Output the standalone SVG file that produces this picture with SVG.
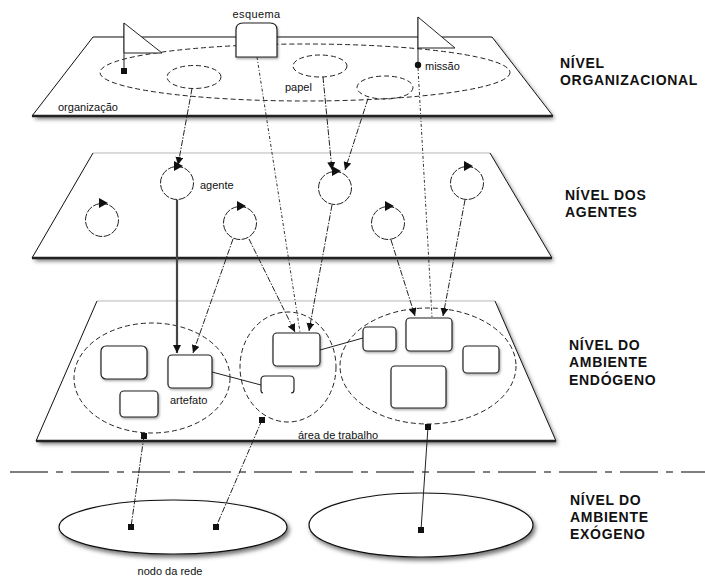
<svg xmlns="http://www.w3.org/2000/svg" xmlns:xlink="http://www.w3.org/1999/xlink" width="705" height="576" viewBox="0 0 705 576">
<defs>
<style>
.plane{fill:#fff;stroke:none}
.edge{fill:none;stroke:#111;stroke-width:1}
.edgeL{fill:none;stroke:#bbb;stroke-width:1}
.base{fill:none;stroke:#222;stroke-width:2.5}
.dell{fill:none;stroke:#222;stroke-width:1;stroke-dasharray:5 3}
.box{fill:#fff;stroke:#222;stroke-width:1.2}
.lbl{font-family:"Liberation Sans",Arial,sans-serif;font-size:11px;fill:#111}
.lvl{font-family:"Liberation Sans",Arial,sans-serif;font-size:14px;font-weight:bold;fill:#111;letter-spacing:0.7px}
.c1{fill:none;stroke:#222;stroke-width:1;stroke-dasharray:6 1.5 1.5 1.5}
.c2{fill:none;stroke:#333;stroke-width:1;stroke-dasharray:3 2 1 2}
.cs{fill:none;stroke:#222;stroke-width:1}
.ct{fill:none;stroke:#444;stroke-width:2.2}
.sq{fill:#111}
</style>
<filter id="sh" x="-10%" y="-10%" width="125%" height="140%">
<feDropShadow dx="2" dy="3" stdDeviation="2" flood-color="#000" flood-opacity="0.55"/>
</filter>
<filter id="sh2" x="-20%" y="-20%" width="150%" height="160%">
<feDropShadow dx="1" dy="1.5" stdDeviation="1" flood-color="#000" flood-opacity="0.35"/>
</filter>
<marker id="ah" viewBox="0 0 10 10" refX="10" refY="5" markerWidth="8" markerHeight="8" markerUnits="userSpaceOnUse" orient="auto">
<path d="M0,0 L10,5 L0,10 z" fill="#111"/>
</marker>
<g id="agt">
<circle cx="0" cy="0" r="16.5" fill="#fff" stroke="#222" stroke-width="1" stroke-dasharray="7 1.5"/>
<polygon points="-3,-22 6,-17 -3,-12" fill="#111"/>
</g>
</defs>

<rect width="705" height="576" fill="#fff"/>

<!-- ORGANIZATIONAL LEVEL -->
<g id="plane-org">
<polygon class="plane" points="93,37 492,37 553,116 32,116" filter="url(#sh)"/>
<polyline class="edge" points="32,116 93,37 492,37 553,116"/>
<line class="base" x1="32" y1="116" x2="553" y2="116"/>
</g>
<g id="org-ellipse">
<ellipse class="dell" cx="305" cy="72.5" rx="205" ry="28.5"/>
<text class="lbl" x="58" y="111">organização</text>
</g>
<g id="flag-left">
<line x1="124" y1="23" x2="124" y2="71" stroke="#222" stroke-width="1"/>
<polygon points="124,23 162,53 124,53" fill="#fff" stroke="#222" stroke-width="1"/>
<rect class="sq" x="121" y="68" width="6" height="6"/>
</g>
<g id="flag-right">
<line x1="418" y1="17" x2="418" y2="65" stroke="#222" stroke-width="1"/>
<polygon points="418,17 455,48 418,48" fill="#fff" stroke="#222" stroke-width="1"/>
<circle class="sq" cx="418" cy="65" r="3.2"/>
<text class="lbl" x="425" y="70">missão</text>
</g>
<g id="esquema">
<path d="M236,57 V30 Q236,23 243,23 H270 Q277,23 277,30 V57 Z" class="box" filter="url(#sh2)"/>
<text class="lbl" x="256.5" y="18" text-anchor="middle" letter-spacing="0.4">esquema</text>
</g>
<g id="papel1"><ellipse class="dell" cx="194" cy="77" rx="27" ry="11.5"/></g>
<g id="papel2"><ellipse class="dell" cx="320" cy="66" rx="27" ry="11"/><text class="lbl" x="285" y="91">papel</text></g>
<g id="papel3"><ellipse class="dell" cx="385" cy="87.5" rx="28" ry="11.5"/></g>

<!-- AGENTS LEVEL -->
<g id="plane-agents">
<polygon class="plane" points="93,153 490,153 552,258 32,258" filter="url(#sh)"/>
<line class="edgeL" x1="93" y1="153" x2="490" y2="153"/>
<line class="edge" x1="93" y1="153" x2="32" y2="258"/>
<line class="edge" x1="490" y1="153" x2="552" y2="258"/>
<line class="base" x1="32" y1="258" x2="552" y2="258"/>
</g>

<!-- ENDOGENOUS LEVEL -->
<g id="plane-endo">
<polygon class="plane" points="97,301 495,301 556,441 36,441" filter="url(#sh)"/>
<line class="edgeL" x1="97" y1="301" x2="495" y2="301"/>
<line class="edge" x1="97" y1="301" x2="36" y2="441"/>
<line class="edge" x1="495" y1="301" x2="556" y2="441"/>
<line class="base" x1="36" y1="441" x2="556" y2="441"/>
</g>

<!-- EXOGENOUS LEVEL -->
<line x1="10" y1="472" x2="705" y2="472" stroke="#555" stroke-width="1.5" stroke-dasharray="38 8 7 8"/>
<g id="node-net1">
<ellipse cx="173" cy="527" rx="114" ry="27" fill="#fff" stroke="#111" stroke-width="1.2" filter="url(#sh)"/>
<text class="lbl" x="170" y="575" text-anchor="middle">nodo da rede</text>
</g>
<g id="node-net2">
<ellipse cx="421" cy="525" rx="112" ry="32" fill="#fff" stroke="#111" stroke-width="1.2" filter="url(#sh)"/>
</g>

<!-- workspaces -->
<g id="ws1"><ellipse class="dell" cx="152" cy="378" rx="78" ry="55"/></g>
<g id="ws2"><ellipse class="dell" cx="288" cy="367" rx="48" ry="55"/><text class="lbl" x="298" y="439">área de trabalho</text></g>
<g id="ws3"><ellipse class="dell" cx="428" cy="366" rx="88" ry="58"/></g>

<!-- artifacts -->
<g id="art-a"><rect class="box" x="101" y="346" width="46" height="33" rx="5" filter="url(#sh2)"/></g>
<g id="art-b"><rect class="box" x="168" y="355" width="44" height="33" rx="4" filter="url(#sh2)"/><text class="lbl" x="170" y="404">artefato</text></g>
<g id="art-c"><rect class="box" x="120" y="391" width="38" height="26" rx="4" filter="url(#sh2)"/></g>
<g id="art-d"><rect class="box" x="273" y="333" width="47" height="33" rx="4" filter="url(#sh2)"/></g>
<g id="art-e"><path d="M263,393 Q261,393 261,390 V380 Q261,376 265,376 H290 Q294,376 294,380 V390 Q294,393 291,393" class="box" fill="#fff"/></g>
<g id="art-f"><rect class="box" x="363" y="327" width="33" height="24" rx="4" filter="url(#sh2)"/></g>
<g id="art-g"><rect class="box" x="406" y="318" width="46" height="33" rx="4" filter="url(#sh2)"/></g>
<g id="art-h"><rect class="box" x="391" y="366" width="55" height="42" rx="4" filter="url(#sh2)"/></g>
<g id="art-i"><rect class="box" x="463" y="346" width="36" height="27" rx="4" filter="url(#sh2)"/></g>

<!-- connectors -->
<g id="connectors">
<line class="c1" x1="192" y1="88.5" x2="178" y2="165" marker-end="url(#ah)"/>
<line class="c1" x1="323" y1="77" x2="332" y2="170" marker-end="url(#ah)"/>
<line class="c1" x1="368" y1="98.5" x2="345" y2="170" marker-end="url(#ah)"/>
<line class="c2" x1="257" y1="57" x2="300" y2="332"/>
<line class="c2" x1="418" y1="68" x2="432" y2="317"/>
<line class="ct" x1="177" y1="200" x2="177" y2="353" marker-end="url(#ah)"/>
<line class="c1" x1="233" y1="239" x2="193" y2="353" marker-end="url(#ah)"/>
<line class="c1" x1="249" y1="239" x2="295" y2="332" marker-end="url(#ah)"/>
<line class="c1" x1="332" y1="205" x2="309" y2="331" marker-end="url(#ah)"/>
<line class="c1" x1="391" y1="240" x2="415" y2="316" marker-end="url(#ah)"/>
<line class="c1" x1="465" y1="200" x2="443" y2="316" marker-end="url(#ah)"/>
<line class="cs" x1="212" y1="372" x2="261" y2="385"/>
<line class="cs" x1="320" y1="350" x2="363" y2="338"/>
<line class="c1" x1="144" y1="436" x2="131" y2="527"/>
<line class="c1" x1="262" y1="420" x2="216" y2="527"/>
<line class="cs" x1="428" y1="427" x2="421" y2="530"/>
<rect class="sq" x="141" y="433" width="6" height="6"/>
<rect class="sq" x="259" y="417" width="6" height="6"/>
<rect class="sq" x="425" y="424" width="6" height="6"/>
<rect class="sq" x="128" y="524" width="6" height="6"/>
<rect class="sq" x="213" y="524" width="6" height="6"/>
<rect class="sq" x="418" y="527" width="6" height="6"/>
</g>

<!-- agents -->
<g id="agent1"><use xlink:href="#agt" x="102" y="220"/></g>
<g id="agent2"><use xlink:href="#agt" x="177" y="183"/><text class="lbl" x="200" y="189">agente</text></g>
<g id="agent3"><use xlink:href="#agt" x="240" y="223"/></g>
<g id="agent4"><use xlink:href="#agt" x="335" y="188"/></g>
<g id="agent5"><use xlink:href="#agt" x="388" y="223"/></g>
<g id="agent6"><use xlink:href="#agt" x="467" y="183"/></g>

<!-- level labels -->
<g id="lvl-org"><text class="lvl" x="560" y="68">NÍVEL</text><text class="lvl" x="560" y="85">ORGANIZACIONAL</text></g>
<g id="lvl-agents"><text class="lvl" x="565" y="200">NÍVEL DOS</text><text class="lvl" x="565" y="217">AGENTES</text></g>
<g id="lvl-endo"><text class="lvl" x="569" y="350">NÍVEL DO</text><text class="lvl" x="569" y="367">AMBIENTE</text><text class="lvl" x="569" y="385">ENDÓGENO</text></g>
<g id="lvl-exo"><text class="lvl" x="570" y="505">NÍVEL DO</text><text class="lvl" x="570" y="522">AMBIENTE</text><text class="lvl" x="570" y="539">EXÓGENO</text></g>
</svg>
